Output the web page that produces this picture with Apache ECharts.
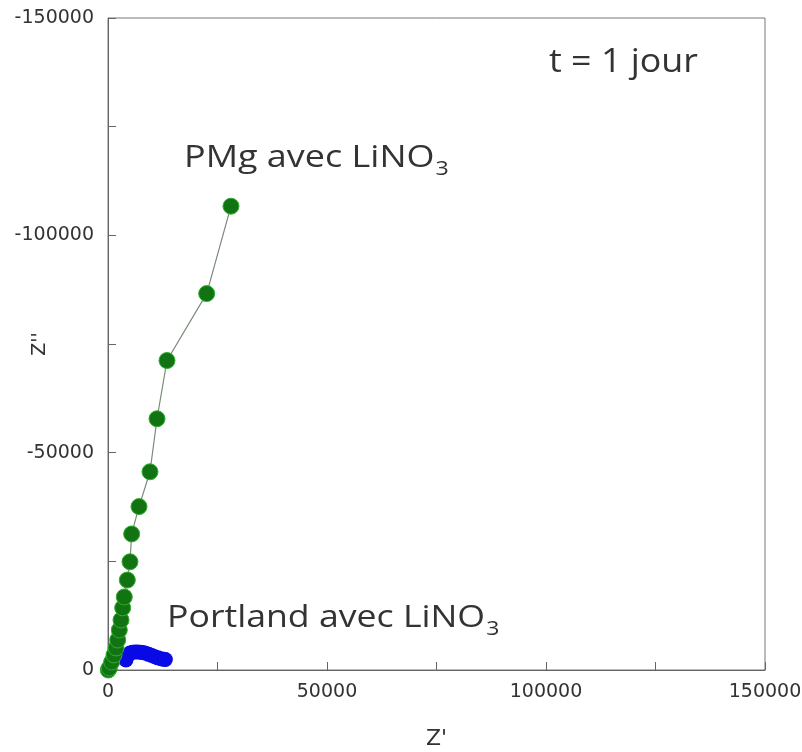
<!DOCTYPE html>
<html>
<head>
<meta charset="utf-8">
<script src="https://cdn.jsdelivr.net/npm/echarts@6/dist/echarts.min.js"></script>
<style>
  html, body { margin: 0; padding: 0; background: #fff; }
  #main { width: 802px; height: 752px; }
</style>
</head>
<body>
<div id="main"></div>
<script>
// Z' (x) et Z'' (y)
var pmgZr = [70, 300, 840, 1370, 1830, 2210, 2580, 2970, 3350, 3720, 4410, 5020, 5400, 7080, 9590, 11190, 13470, 22530, 28080];
var pmgZi = [0, -460, -1840, -3460, -5070, -6900, -9200, -11500, -14300, -16800, -20700, -24900, -31300, -37600, -45600, -57800, -71200, -86600, -106700];

var portZr = [4100, 4500, 5000, 5600, 6200, 6800, 7400, 8000, 8600, 9300, 10000, 10700, 11400, 12100, 12800, 13100];
var portZi = [-2300, -3300, -3900, -4100, -4150, -4150, -4100, -4000, -3850, -3600, -3350, -3050, -2800, -2600, -2450, -2400];

var xTicks = [0, 50000, 100000, 150000];
var yTicks = [0, -50000, -100000, -150000];

function pairs(a, b) {
  return a.map(function (v, i) { return [v, b[i]]; });
}

var myChart = echarts.init(document.getElementById('main'));

var tickFont = { fontFamily: 'DejaVu Sans', fontSize: 19, color: '#333' };
var subStyle = { fontFamily: 'Open Sans', fontSize: 20, fill: '#333', padding: [22, 0, 0, 1] };

var option = {
  backgroundColor: '#ffffff',
  animation: false,
  grid: {
    left: 108, right: 37, top: 18, bottom: 82,
    outerBoundsMode: 'none',
    show: true, borderColor: '#777', borderWidth: 1
  },
  xAxis: {
    type: 'value',
    min: 0, max: 150000, interval: 25000,
    name: "Z'",
    nameLocation: 'middle',
    nameGap: 58,
    nameMoveOverlap: false,
    nameTextStyle: { fontFamily: 'DejaVu Sans', fontSize: 22, color: '#333' },
    axisLine: { lineStyle: { color: '#666' } },
    axisTick: { inside: true, length: 8, lineStyle: { color: '#666' } },
    axisLabel: Object.assign({
      margin: 13,
      formatter: function (v) { return xTicks.indexOf(v) >= 0 ? String(v) : ''; }
    }, tickFont),
    splitLine: { show: false }
  },
  yAxis: {
    type: 'value',
    min: -150000, max: 0, interval: 25000,
    inverse: true,
    name: "Z''",
    nameLocation: 'middle',
    nameGap: 58,
    nameRotate: 90,
    nameMoveOverlap: false,
    nameTextStyle: { fontFamily: 'DejaVu Sans', fontSize: 19, color: '#333' },
    axisLine: { lineStyle: { color: '#666' } },
    axisTick: { inside: true, length: 8, lineStyle: { color: '#666' } },
    axisLabel: Object.assign({
      margin: 14,
      formatter: function (v) { return yTicks.indexOf(v) >= 0 ? String(v) : ''; }
    }, tickFont),
    splitLine: { show: false }
  },
  series: [
    {
      name: 'Portland avec LiNO3',
      type: 'line',
      data: pairs(portZr, portZi),
      symbol: 'circle',
      symbolSize: 15,
      itemStyle: { color: '#0a0ae6' },
      lineStyle: { color: '#0a0ae6', width: 13 },
      z: 2
    },
    {
      name: 'PMg avec LiNO3',
      type: 'line',
      data: pairs(pmgZr, pmgZi),
      symbol: 'circle',
      symbolSize: 16,
      itemStyle: { color: '#127312', borderColor: '#2fae2f', borderWidth: 1 },
      lineStyle: { color: '#7a8a7a', width: 1.2 },
      z: 3
    }
  ],
  graphic: [
    {
      type: 'text', x: 549, y: 47, scaleX: 1.12,
      style: { text: 't = 1 jour', fontFamily: 'Open Sans', fontSize: 32, fill: '#333' }
    },
    {
      type: 'text', x: 184, y: 137, scaleX: 1.16,
      style: {
        text: 'PMg avec LiNO{sub|3}',
        fontFamily: 'Open Sans', fontSize: 31, fill: '#333',
        rich: { sub: subStyle }
      }
    },
    {
      type: 'text', x: 167, y: 597, scaleX: 1.15,
      style: {
        text: 'Portland avec LiNO{sub|3}',
        fontFamily: 'Open Sans', fontSize: 31, fill: '#333',
        rich: { sub: subStyle }
      }
    }
  ]
};

myChart.setOption(option);
</script>
</body>
</html>
